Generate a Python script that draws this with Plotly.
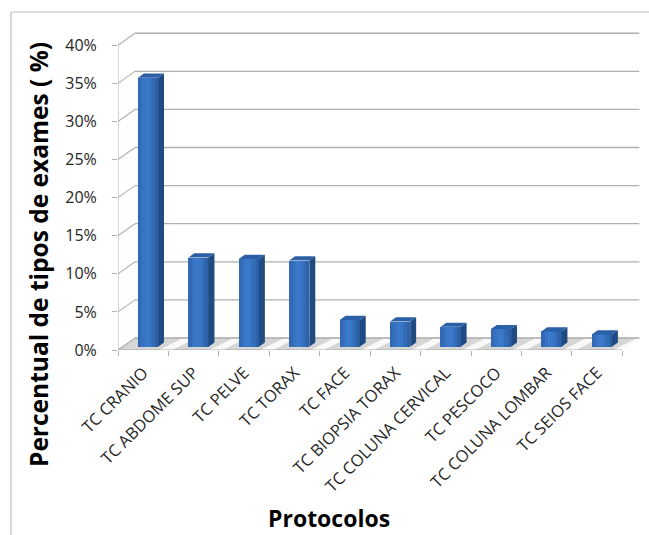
import plotly.graph_objects as go

# Share of exam types per CT protocol (%)
protocolos = [
    "TC CRANIO", "TC ABDOME SUP", "TC PELVE", "TC TORAX", "TC FACE",
    "TC BIOPSIA TORAX", "TC COLUNA CERVICAL", "TC PESCOCO",
    "TC COLUNA LOMBAR", "TC SEIOS FACE",
]
percentual = [35.3, 11.7, 11.5, 11.3, 3.5, 3.3, 2.6, 2.3, 2.0, 1.6]
y_ticks = [0, 5, 10, 15, 20, 25, 30, 35, 40]
y_ticktext = [f"{t}%" for t in y_ticks]

# Layout geometry (pixels) and pseudo-3D depth
W_FIG, H_FIG = 649, 535
M_L, M_R, M_T, M_B = 118, 4, 30, 185
PW, PH = W_FIG - M_L - M_R, H_FIG - M_T - M_B
N = len(protocolos)
X_MAX = 10.45
Y_MAX = 42.0
PX_X = PW / X_MAX          # pixels per category
PX_Y = PH / Y_MAX          # pixels per percent
DX = 17 / PX_X             # wall depth in x units
DY = 12 / PX_Y             # wall depth in y units
BAR_W = 0.40
F0 = 0.28                  # bar front position in the depth
BD = 0.35                  # bar depth fraction

GRID = "#b0b0b0"
FRONT_STRIPS = ["#3369b4", "#3873c2", "#3b7acb", "#3877c6", "#326bb6", "#2d62a8"]
SIDE = "#1f4a82"
TOP = "#2b5fa6"
FONT = "Open Sans"


def paper_x(px):
    return (px - M_L) / PW


def paper_y(py):
    return (M_T + PH - py) / PH


fig = go.Figure()
shapes = []

# Floor slab with light streaks between the bars
shapes.append(dict(type="path", xref="x", yref="y", layer="below",
                   path=f"M0,0 L{N},0 L{N + DX},{DY} L{DX},{DY} Z",
                   fillcolor="#d6d6d6", line=dict(color="#c4c4c4", width=1)))
for i in range(N):
    a = i + 0.5 + BAR_W / 2 + 0.12
    b = i + 1.08
    shapes.append(dict(type="path", xref="x", yref="y", layer="below",
                       path=(f"M{a},0 L{b},0 L{min(b + 0.45, N + DX * 0.99)},{DY * 0.95} "
                             f"L{a + 0.45},{DY * 0.95} Z"),
                       fillcolor="rgba(255,255,255,0.85)", line=dict(width=0)))

# Back wall gridlines and left wall diagonals
for t in y_ticks:
    shapes.append(dict(type="line", xref="x", yref="y", x0=DX, x1=N + DX,
                       y0=t + DY, y1=t + DY, line=dict(color=GRID, width=1.3),
                       layer="below"))
    shapes.append(dict(type="line", xref="x", yref="y", x0=0, x1=DX,
                       y0=t, y1=t + DY, line=dict(color=GRID, width=1.1),
                       layer="below"))
# Front vertical axis
shapes.append(dict(type="line", xref="x", yref="y", x0=0, x1=0, layer="below",
                   y0=0, y1=y_ticks[-1], line=dict(color=GRID, width=1.1)))
# Front floor edge
shapes.append(dict(type="line", xref="x", yref="y", x0=0, x1=N, layer="below",
                   y0=0, y1=0, line=dict(color=GRID, width=1.1)))
# Outer frame of the chart area
shapes.append(dict(type="line", xref="paper", yref="paper",
                   x0=paper_x(11), x1=paper_x(11), y0=paper_y(12), y1=paper_y(540),
                   line=dict(color="#bdbdbd", width=1.2)))
shapes.append(dict(type="line", xref="paper", yref="paper",
                   x0=paper_x(11), x1=paper_x(660), y0=paper_y(12), y1=paper_y(12),
                   line=dict(color="#bdbdbd", width=1.2)))

# Bars: front faces, split into vertical strips for a soft shading
centers = [i + 0.5 for i in range(N)]
front_x = [c + F0 * DX for c in centers]
n_s = len(FRONT_STRIPS)
sw = BAR_W / n_s
for k, col in enumerate(FRONT_STRIPS):
    fig.add_trace(go.Bar(
        x=[fx - BAR_W / 2 + sw * (k + 0.5) for fx in front_x],
        y=percentual, base=[F0 * DY] * N, width=sw * 1.02,
        marker=dict(color=col, line=dict(width=0)),
        hovertext=protocolos, showlegend=False,
    ))

# Side and top faces
sx, sy, tx, ty = [], [], [], []
ddx, ddy = BD * DX, BD * DY
for fx, v in zip(front_x, percentual):
    x0, x1 = fx - BAR_W / 2, fx + BAR_W / 2
    y0, y1 = F0 * DY, F0 * DY + v
    sx += [x1, x1 + ddx, x1 + ddx, x1, x1, None]
    sy += [y0, y0 + ddy, y1 + ddy, y1, y0, None]
    tx += [x0, x1, x1 + ddx, x0 + ddx, x0, None]
    ty += [y1, y1, y1 + ddy, y1 + ddy, y1, None]
fig.add_trace(go.Scatter(x=sx, y=sy, fill="toself", fillcolor=SIDE, mode="lines",
                         line=dict(width=0, color=SIDE), hoverinfo="skip",
                         showlegend=False))
fig.add_trace(go.Scatter(x=tx, y=ty, fill="toself", fillcolor=TOP, mode="lines",
                         line=dict(width=0, color=TOP), hoverinfo="skip",
                         showlegend=False))

fig.update_layout(
    width=W_FIG, height=H_FIG,
    margin=dict(l=M_L, r=M_R, t=M_T, b=M_B),
    paper_bgcolor="white", plot_bgcolor="white",
    font=dict(family=FONT, color="#262626"),
    shapes=shapes,
    bargap=0, barmode="overlay",
    xaxis=dict(
        range=[0, X_MAX], showgrid=False, zeroline=False, showline=False,
        tickmode="array", tickvals=centers, ticktext=protocolos,
        tickangle=-45, ticks="", tickfont=dict(size=16.5, family=FONT, color="#262626"),
        ticklabelstandoff=9,
        minor=dict(tickmode="array", tickvals=list(range(N + 1)), ticks="outside",
                   ticklen=5, tickcolor=GRID, tickwidth=1.1, showgrid=False),
    ),
    yaxis=dict(
        range=[0, Y_MAX], showgrid=False, zeroline=False, showline=False,
        tickmode="array", tickvals=y_ticks, ticktext=y_ticktext,
        ticks="outside", ticklen=5, tickcolor=GRID, tickwidth=1.1,
        tickfont=dict(size=16, family=FONT, color="#262626"),
        ticklabelstandoff=12,
    ),
    annotations=[
        dict(text="<b>Percentual de tipos de exames ( %)</b>", textangle=-90,
             xref="paper", yref="paper", x=paper_x(38), y=paper_y(255),
             showarrow=False, font=dict(size=24.5, family=FONT, color="black"),
             xanchor="center", yanchor="middle"),
        dict(text="<b>Protocolos</b>",
             xref="paper", yref="paper", x=paper_x(329), y=paper_y(518),
             showarrow=False, font=dict(size=23, family=FONT, color="black"),
             xanchor="center", yanchor="middle", borderpad=0),
    ],
)

fig.write_html("out.html")
